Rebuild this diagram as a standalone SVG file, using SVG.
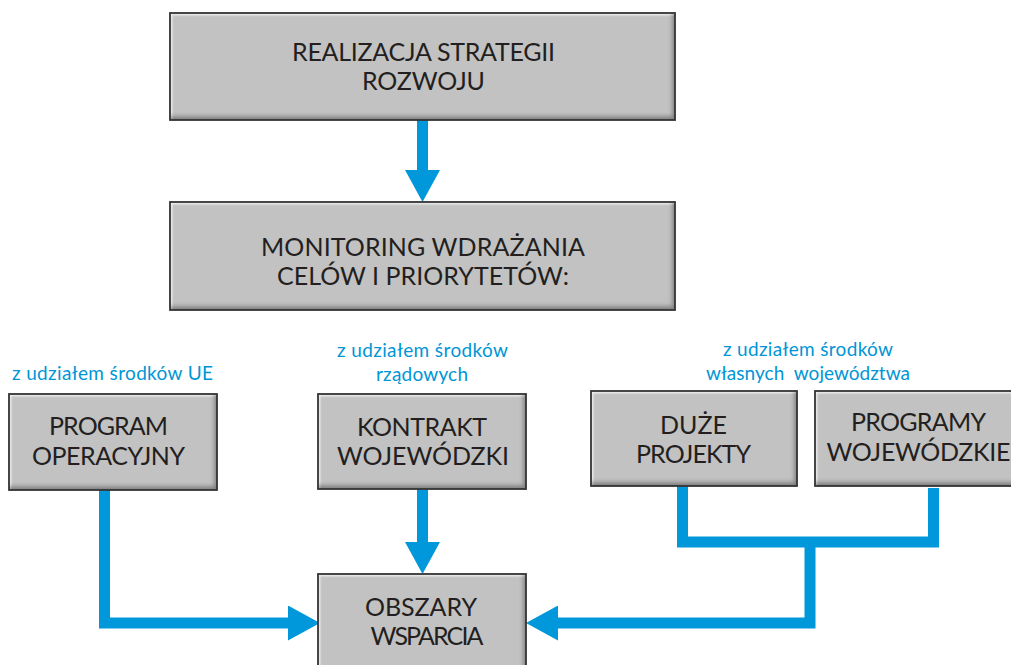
<svg xmlns="http://www.w3.org/2000/svg" width="1011" height="665" viewBox="0 0 1011 665">
<style>
  .bg { fill: #ffffff; }
  .fill { fill: #c2c2c2; filter: url(#bevel); }
  .frame { fill: none; stroke: #333333; stroke-width: 1.8; }
  .t { font-family: Lato, "Open Sans", "Liberation Sans", sans-serif; font-size: 25px; fill: #231f20; text-anchor: middle; }
  .lbl { font-family: Lato, "Open Sans", "Liberation Sans", sans-serif; font-size: 19px; fill: #0096d6; text-anchor: middle; }
  .con { fill: none; stroke: #0098da; stroke-width: 11; stroke-linejoin: miter; stroke-linecap: butt; }
</style>
<defs>
  <filter id="bevel" x="-5%" y="-10%" width="110%" height="120%">
    <feFlood flood-color="#000000" flood-opacity="0.6"/>
    <feComposite in2="SourceAlpha" operator="out"/>
    <feGaussianBlur stdDeviation="2"/>
    <feOffset dx="-3" dy="-4"/>
    <feComposite in2="SourceAlpha" operator="in" result="dark"/>
    <feFlood flood-color="#ffffff" flood-opacity="0.8"/>
    <feComposite in2="SourceAlpha" operator="out"/>
    <feGaussianBlur stdDeviation="1.2"/>
    <feOffset dx="1.5" dy="2"/>
    <feComposite in2="SourceAlpha" operator="in" result="light"/>
    <feMerge>
      <feMergeNode in="SourceGraphic"/>
      <feMergeNode in="light"/>
      <feMergeNode in="dark"/>
    </feMerge>
  </filter>
  <marker id="ah" markerUnits="userSpaceOnUse" markerWidth="32" markerHeight="35" viewBox="0 0 32 35" refX="1" refY="17.5" orient="auto">
    <path d="M0,0 L32,17.5 L0,35 Z" fill="#0098da"/>
  </marker>
</defs>
<rect class="bg" x="0" y="0" width="1011" height="665"/>

<g id="connectors">
  <path class="con" d="M422.5,120 V171" marker-end="url(#ah)"/>
  <path class="con" d="M422.5,489 V543" marker-end="url(#ah)"/>
  <path class="con" d="M104.5,490 V623 H289" marker-end="url(#ah)"/>
  <path class="con" d="M682.5,486 V542 H933.5 V488"/>
  <path class="con" d="M810,542 V623 H557" marker-end="url(#ah)"/>
</g>

<g id="realizacja">
  <rect class="fill" x="170" y="13" width="505" height="107"/>
  <rect class="frame" x="170" y="13" width="505" height="107"/>
  <text class="t" x="423.5" y="61" textLength="263">REALIZACJA STRATEGII</text>
  <text class="t" x="423.5" y="90" textLength="123">ROZWOJU</text>
</g>

<g id="monitoring">
  <rect class="fill" x="170" y="202" width="505" height="108"/>
  <rect class="frame" x="170" y="202" width="505" height="108"/>
  <text class="t" x="423" y="256" textLength="324">MONITORING WDRAŻANIA</text>
  <text class="t" x="423" y="285" textLength="292">CELÓW I PRIORYTETÓW:</text>
</g>

<g id="label-ue">
  <text class="lbl" x="112.5" y="380" textLength="201">z udziałem środków UE</text>
</g>

<g id="label-rzadowe">
  <text class="lbl" x="422.5" y="357" textLength="171">z udziałem środków</text>
  <text class="lbl" x="422" y="381" textLength="92">rządowych</text>
</g>

<g id="label-wlasne">
  <text class="lbl" x="808" y="356" textLength="170">z udziałem środków</text>
  <text class="lbl" x="808" y="380" textLength="204" xml:space="preserve">własnych  województwa</text>
</g>

<g id="program-operacyjny">
  <rect class="fill" x="9" y="394" width="208" height="96"/>
  <rect class="frame" x="9" y="394" width="208" height="96"/>
  <text class="t" x="108.5" y="435" textLength="119">PROGRAM</text>
  <text class="t" x="108.5" y="465" textLength="153">OPERACYJNY</text>
</g>

<g id="kontrakt-wojewodzki">
  <rect class="fill" x="318" y="394" width="208" height="95"/>
  <rect class="frame" x="318" y="394" width="208" height="95"/>
  <text class="t" x="422" y="436" textLength="130">KONTRAKT</text>
  <text class="t" x="423" y="465" textLength="172">WOJEWÓDZKI</text>
</g>

<g id="duze-projekty">
  <rect class="fill" x="591" y="391" width="206" height="95"/>
  <rect class="frame" x="591" y="391" width="206" height="95"/>
  <text class="t" x="693.5" y="434" textLength="67">DUŻE</text>
  <text class="t" x="693.5" y="463" textLength="115">PROJEKTY</text>
</g>

<g id="programy-wojewodzkie">
  <rect class="fill" x="815" y="391" width="207" height="95"/>
  <rect class="frame" x="815" y="391" width="207" height="95"/>
  <text class="t" x="918.5" y="431" textLength="135">PROGRAMY</text>
  <text class="t" x="918.5" y="461" textLength="184">WOJEWÓDZKIE</text>
</g>

<g id="obszary-wsparcia">
  <rect class="fill" x="318" y="574" width="208" height="100"/>
  <rect class="frame" x="318" y="574" width="208" height="100"/>
  <text class="t" x="421" y="616" textLength="112">OBSZARY</text>
  <text class="t" x="427" y="645" textLength="113">WSPARCIA</text>
</g>
</svg>
